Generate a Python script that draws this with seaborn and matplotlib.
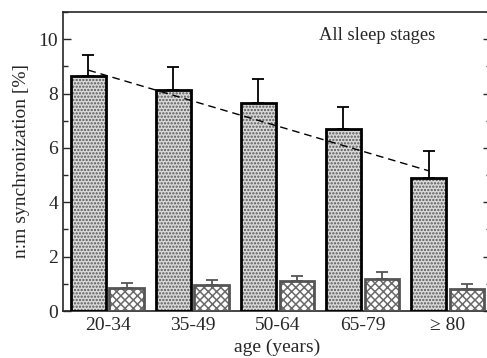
import numpy as np
import pandas as pd
import matplotlib
matplotlib.use("Agg")
import matplotlib.pyplot as plt
from matplotlib.patches import Rectangle
from matplotlib.ticker import MultipleLocator
import seaborn as sns

# Age groups and synchronization rates
age_groups = ["20-34", "35-49", "50-64", "65-79", "\u2265 80"]
sync_mean = [8.63, 8.12, 7.66, 6.68, 4.90]
sync_err = [0.80, 0.86, 0.87, 0.82, 0.98]
surrogate_mean = [0.86, 0.96, 1.12, 1.19, 0.80]
surrogate_err = [0.18, 0.18, 0.17, 0.25, 0.18]
trend_ends = [8.86, 5.16]
stage_label = "All sleep stages"

sns.set_style("ticks")
plt.rcParams["font.family"] = ["Liberation Serif", "DejaVu Serif"]
plt.rcParams["hatch.linewidth"] = 1.1

df = pd.DataFrame({
    "age": age_groups * 2,
    "value": sync_mean + surrogate_mean,
    "kind": ["data"] * 5 + ["surrogate"] * 5,
})

fig = plt.figure(figsize=(4.87, 3.58), dpi=100)
ax = fig.add_axes([63 / 487, 1 - 311 / 358, 428 / 487, 299 / 358])

sns.barplot(data=df, x="age", y="value", hue="kind", order=age_groups,
            hue_order=["data", "surrogate"], width=0.9, gap=0.1,
            errorbar=None, legend=False, ax=ax)

styles = {
    "data": dict(face="#dadada", hatch=".....", hcol="#555555", edge="black", lw=2.0),
    "surrogate": dict(face="white", hatch="xxxx", hcol="#6a6a6a", edge="#555555", lw=2.0),
}

bars_data = ax.containers[0]
bars_sur = ax.containers[1]

for cont, kind, errs in [(bars_data, "data", sync_err), (bars_sur, "surrogate", surrogate_err)]:
    st = styles[kind]
    xs, tops = [], []
    for p in cont.patches:
        p.set_facecolor(st["face"])
        p.set_hatch(st["hatch"])
        p.set_edgecolor(st["hcol"])
        p.set_linewidth(0)
        ax.add_patch(Rectangle((p.get_x(), p.get_y()), p.get_width(), p.get_height(),
                               fill=False, edgecolor=st["edge"], linewidth=st["lw"], zorder=3))
        xs.append(p.get_x() + p.get_width() / 2)
        tops.append(p.get_height())
    ecol = "black" if kind == "data" else "#555555"
    ax.errorbar(xs, tops, yerr=[np.zeros(len(errs)), errs], fmt="none",
                ecolor=ecol, elinewidth=1.3, capsize=4.5, capthick=1.3, zorder=2)
    if kind == "data":
        ax.plot([xs[0], xs[-1]], trend_ends, linestyle=(0, (5.5, 3.5)),
                color="black", linewidth=1.0, zorder=4)

ax.set_xlim(-0.524, 4.51)
ax.set_ylim(0, 11)
ax.yaxis.set_major_locator(MultipleLocator(2))
ax.yaxis.set_minor_locator(MultipleLocator(1))
ax.tick_params(axis="y", which="both", direction="in", right=True, labelsize=14)
ax.tick_params(axis="y", which="major", length=6, width=1)
ax.tick_params(axis="y", which="minor", length=3.5, width=1)
ax.tick_params(axis="x", length=0, labelsize=14, pad=4)
for s in ax.spines.values():
    s.set_linewidth(1.2)

ax.set_xlabel("age (years)", fontsize=14, labelpad=3.5)
ax.set_ylabel("n:m synchronization [%]", fontsize=14, labelpad=6)
ax.text(0.735, 0.92, stage_label, transform=ax.transAxes, ha="center",
        va="center", fontsize=13.3)

fig.savefig("out.png", dpi=100)
